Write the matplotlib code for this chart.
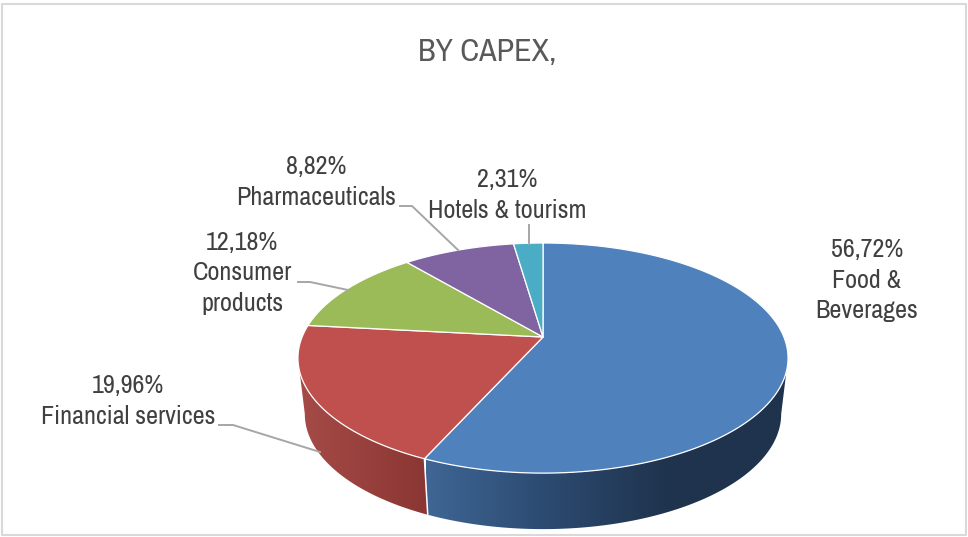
import numpy as np
import matplotlib
matplotlib.use('Agg')
import matplotlib.pyplot as plt
from matplotlib.colors import LinearSegmentedColormap
from matplotlib.patches import Polygon

plt.rcParams['font.family'] = ['Archivo Narrow', 'Liberation Sans', 'DejaVu Sans']

sectors = ['Food &\nBeverages', 'Financial services', 'Consumer\nproducts',
           'Pharmaceuticals', 'Hotels & tourism']
shares = [56.72, 19.96, 12.18, 8.82, 2.31]
colors = ['#4f81bd', '#c0504d', '#9bbb59', '#8064a2', '#4bacc6']

# label anchors, in pixels
label_pos = [(867, 280), (128, 401), (242, 273), (316, 182), (507, 195)]
leaders = [
    None,
    [(219, 425), (233, 425), (320, 452)],
    [(298, 282), (310, 282), (348, 290)],
    [(400, 206), (412, 206), (458, 250)],
    [(529, 225), (529, 244)],
]

# tilted disc seen in perspective
cx, cy = 543, 337
rx, ry, tilt = 240.9, 111.2, 0.183
depth = 56
bottom_scale = 0.972


def top_edge(theta):
    w = 1 + tilt * np.sin(theta)
    return cx + rx * np.cos(theta) / w, cy - ry * np.sin(theta) / w


def bottom_edge(theta):
    x, y = top_edge(theta)
    return cx + (x - cx) * bottom_scale, y + depth


fig = plt.figure(figsize=(9.68, 5.37), dpi=100)
ax = fig.add_axes([0, 0, 1, 1])
ax.set_xlim(0, 968)
ax.set_ylim(537, 0)
ax.axis('off')

# thin frame round the chart
ax.plot([2, 966, 966, 2, 2], [4, 4, 535, 535, 4], color='#d9d9d9', lw=1.5, zorder=1)

edges = 90 - np.cumsum([0] + shares) * 360 / sum(shares)
limit = np.degrees(np.arcsin(tilt))

# the visible side wall only exists on the front half
wall_maps = {
    0: LinearSegmentedColormap.from_list('w0', ['#3f6695', '#2c4a70', '#1f334d', '#1f334d']),
    1: LinearSegmentedColormap.from_list('w1', ['#a64b47', '#8a3633']),
}
wall_spans = {0: (-limit, edges[1]), 1: (edges[1], -180 + limit)}
wall_x = {0: (426, 790), 1: (298, 430)}

for i, (a, b) in wall_spans.items():
    t = np.radians(np.linspace(a, b, 160))
    xt, yt = top_edge(t)
    xb, yb = bottom_edge(t)
    pts = np.column_stack([np.r_[xt, xb[::-1]], np.r_[yt, yb[::-1]]])
    clip = Polygon(pts, closed=True, transform=ax.transData, fc='none', ec='none')
    ax.add_patch(clip)
    grad = np.linspace(0, 1, 256).reshape(1, -1)
    im = ax.imshow(grad, cmap=wall_maps[i], extent=(wall_x[i][0], wall_x[i][1], 535, 300),
                   aspect='auto', zorder=2)
    im.set_clip_path(clip)

# white seam between the two walls
xs, ys = top_edge(np.radians(edges[1]))
xe, ye = bottom_edge(np.radians(edges[1]))
ax.plot([xs, xe], [ys, ye], color='white', lw=1.1, zorder=3)

for i, color in enumerate(colors):
    t = np.radians(np.linspace(edges[i], edges[i + 1], 200))
    x, y = top_edge(t)
    ax.fill(np.r_[cx, x], np.r_[cy, y], facecolor=color, edgecolor='white',
            lw=0.9, joinstyle='round', zorder=4)

for line in leaders:
    if line:
        px, py = zip(*line)
        ax.plot(px, py, color='#a6a6a6', lw=1.4, zorder=5)

for name, share, (lx, ly) in zip(sectors, shares, label_pos):
    text = f'{share:.2f}'.replace('.', ',') + '%\n' + name
    ax.text(lx, ly, text, ha='center', va='center', ma='center', fontsize=18.8,
            linespacing=1.42, color='#404040', zorder=6)

ax.text(487, 52, 'BY CAPEX,', ha='center', va='center', fontsize=23, color='#595959')

fig.savefig('out.png', dpi=100)
